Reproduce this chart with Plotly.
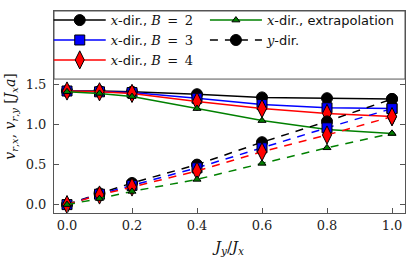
import plotly.graph_objects as go

jy_over_jx = [0.0, 0.1, 0.2, 0.4, 0.6, 0.8, 1.0]

# x-direction velocities
vx_B2 = [1.42, 1.42, 1.41, 1.38, 1.34, 1.33, 1.32]
vx_B3 = [1.42, 1.41, 1.40, 1.33, 1.25, 1.21, 1.20]
vx_B4 = [1.42, 1.41, 1.39, 1.29, 1.20, 1.14, 1.10]
vx_ext = [1.41, 1.39, 1.35, 1.20, 1.05, 0.94, 0.89]

# y-direction velocities
vy_B2 = [0.0, 0.14, 0.27, 0.50, 0.78, 1.04, 1.32]
vy_B3 = [0.0, 0.13, 0.24, 0.46, 0.71, 0.96, 1.20]
vy_B4 = [0.0, 0.12, 0.22, 0.42, 0.66, 0.87, 1.10]
vy_ext = [0.0, 0.075, 0.165, 0.315, 0.515, 0.71, 0.89]

ytick_vals = [0.0, 0.5, 1.0, 1.5]
xtick_vals = [0.0, 0.2, 0.4, 0.6, 0.8, 1.0]

SERIF = "DejaVu Serif"
SANS = "DejaVu Sans"

def it(s):
    return f'<span style="font-family:{SERIF}"><i>{s}</i></span>'

def rm(s):
    return f'<span style="font-family:{SERIF}">{s}</span>'

EQ = "\u2002=\u2002"

series = [
    ("B2", vx_B2, vy_B2, "black", "circle", 11, "legend", 1, f"{it('x')}-dir., {it('B')}{rm(EQ + '2')}"),
    ("B3", vx_B3, vy_B3, "#0000ff", "square", 10, "legend", 2, f"{it('x')}-dir., {it('B')}{rm(EQ + '3')}"),
    ("B4", vx_B4, vy_B4, "#ff0000", "diamond-tall", 13, "legend", 3, f"{it('x')}-dir., {it('B')}{rm(EQ + '4')}"),
    ("ext", vx_ext, vy_ext, "#008000", "triangle-up", 7, "legend2", 1, f"{it('x')}-dir., extrapolation"),
]

fig = go.Figure()
for key, vx, vy, col, sym, size, leg, rank, name in series:
    fig.add_trace(go.Scatter(
        x=jy_over_jx, y=vx, mode="lines+markers", name=name,
        line=dict(color=col, width=1.5),
        marker=dict(symbol=sym, size=size, color=col, line=dict(color="black", width=1)),
        legend=leg, legendrank=rank, showlegend=True,
    ))
for key, vx, vy, col, sym, size, leg, rank, name in series:
    fig.add_trace(go.Scatter(
        x=jy_over_jx, y=vy, mode="lines+markers", name=f"{it('y')}-dir.",
        line=dict(color=col, width=1.5, dash="8px,7px"),
        marker=dict(symbol=sym, size=size, color=col, line=dict(color="black", width=1)),
        legend="legend2", legendrank=2, showlegend=(key == "B2"),
    ))

axis_common = dict(
    showgrid=False, zeroline=False, showline=True, linecolor="#555555", linewidth=1,
    ticks="inside", ticklen=5, tickwidth=1, tickcolor="#555555", mirror="ticks",
    tickfont=dict(family=SERIF, size=13, color="#222222"), automargin=False,
)

# legend frame (styling only)
fig.add_shape(type="rect", xref="paper", yref="paper", x0=0, x1=1, y0=0.663, y1=1,
              line=dict(color="#555555", width=1), fillcolor="white", layer="above")

legend_common = dict(
    orientation="v", yanchor="top", xanchor="left",
    bgcolor="rgba(0,0,0,0)", borderwidth=0, itemwidth=52,
    traceorder="normal", tracegroupgap=0,
    font=dict(family=SANS, size=13, color="#111111"),
)

fig.update_layout(
    width=415, height=257,
    margin=dict(l=54, r=10, t=5, b=44),
    paper_bgcolor="white", plot_bgcolor="white",
    font=dict(family=SANS, size=13, color="#111111"),
    showlegend=True,
    legend=dict(x=-0.015, y=1.029, **legend_common),
    legend2=dict(x=0.43, y=1.029, **legend_common),
    xaxis=dict(range=[-0.04, 1.04], tickvals=xtick_vals, tickformat=".1f",
               title=dict(text=f"{it('J')}<sub>{it('y')}</sub>{rm('/')}{it('J')}<sub>{it('x')}</sub>",
                          font=dict(family=SERIF, size=15), standoff=12),
               **axis_common),
    yaxis=dict(range=[-0.105, 2.42], tickvals=ytick_vals, tickformat=".1f",
               ticklabelstandoff=4,
               title=dict(text=f"{it('v')}<sub>{it('r')},{it('x')}</sub>{rm(', ')}"
                               f"{it('v')}<sub>{it('r')},{it('y')}</sub>{rm(' [')}"
                               f"{it('J')}<sub>{it('x')}</sub>{it('a')}{rm(']')}"
                               f"{rm(chr(160) * 2)}",
                          font=dict(family=SERIF, size=14), standoff=6),
               **axis_common),
)

fig.write_html("out.html", config={"displayModeBar": False},
               post_script="document.body.style.margin='0';")
